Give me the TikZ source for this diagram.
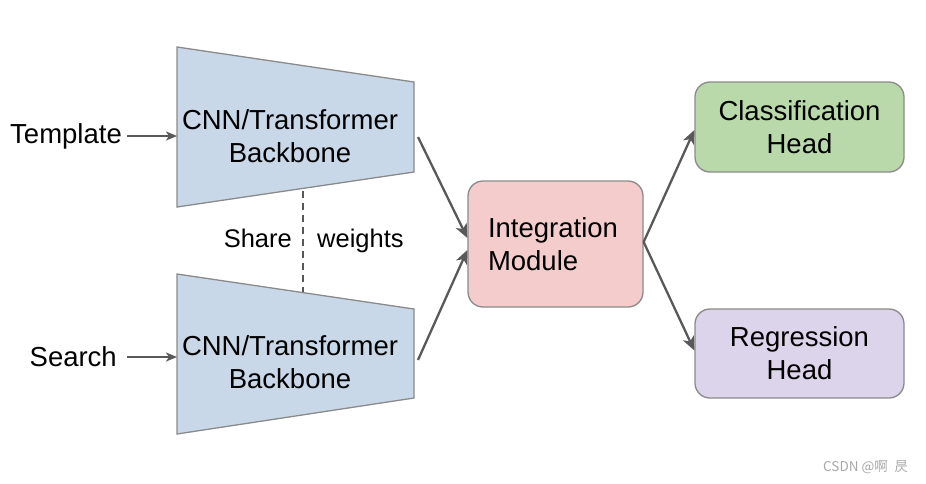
\documentclass[tikz,border=0pt]{standalone}
\usepackage{fontspec}
\setmainfont{Liberation Sans}
\newfontfamily\cjkwm{Noto Sans CJK SC}
\usetikzlibrary{arrows.meta,calc}
\definecolor{trapfill}{HTML}{C9D8E9}
\definecolor{intfill}{HTML}{F4CCCC}
\definecolor{clsfill}{HTML}{B9D9AA}
\definecolor{regfill}{HTML}{DBD4EA}
\definecolor{edgegray}{HTML}{8A8A8A}
\definecolor{arrowgray}{HTML}{595959}
\definecolor{wmgray}{HTML}{A8A8A8}
\tikzset{
  big/.style={font=\fontsize{27.5}{33}\selectfont, text=black, inner sep=0pt},
  small/.style={font=\fontsize{25.5}{30}\selectfont, text=black, inner sep=0pt},
  trap/.style={fill=trapfill, draw=edgegray, line width=1.3pt, line join=miter},
  roundbox/.style={draw=edgegray, line width=1.3pt, rounded corners=15pt, inner sep=0pt,
    font=\fontsize{27.5}{33}\selectfont, text=black},
  conn/.style={draw=arrowgray, line width=2.3pt, -{Stealth[length=14pt,width=12pt,inset=4pt]}},
  inconn/.style={draw=arrowgray, line width=2pt, -{Stealth[length=11pt,width=9pt,inset=3pt]}},
}
\begin{document}
\begin{tikzpicture}[x=1pt,y=-1pt]
\useasboundingbox (0,0) rectangle (926,483);
% trapezoids
\coordinate (a1) at (177,47);
\coordinate (a2) at (414,82);
\coordinate (a3) at (414,172);
\coordinate (a4) at (177,207);
\coordinate (b1) at (177,274);
\coordinate (b2) at (414,309);
\coordinate (b3) at (414,398);
\coordinate (b4) at (177,434);
\draw[trap] (a1) -- (a2) -- (a3) -- (a4) -- cycle;
\draw[trap] (b1) -- (b2) -- (b3) -- (b4) -- cycle;
\node[big, align=center] (bb1) at (290,136) {CNN/Transformer\\Backbone};
\node[big, align=center] (bb2) at (290,362) {CNN/Transformer\\Backbone};
% inputs
\node[big, anchor=base east] (tpl) at (122,143) {Template};
\node[big, anchor=base east] (srch) at (117,366) {Search};
\coordinate (t1in) at (177,136);
\coordinate (t2in) at (177,357);
\coordinate (t1src) at (127,136);
\coordinate (t2src) at (127,357);
\draw[inconn] (t1src) -- (t1in);
\draw[inconn] (t2src) -- (t2in);
% share weights
\coordinate (d1) at (303,191);
\coordinate (d2) at (303,292);
\draw[draw=arrowgray, line width=1.8pt, dash pattern=on 7pt off 5pt] (d1) -- (d2);
\node[small, anchor=base east] (share) at (292,247) {Share};
\node[small, anchor=base west] (wts) at (317,247) {weights};
% integration module
\node[roundbox, fill=intfill, minimum width=175pt, minimum height=126pt,
      text width=135pt, align=left, inner xsep=20pt] (int) at (555.5,244) {Integration\\Module};
% heads
\node[roundbox, fill=clsfill, minimum width=209pt, minimum height=90pt, align=center] (cls) at (799.5,127) {Classification\\Head};
\node[roundbox, fill=regfill, minimum width=209pt, minimum height=89pt, align=center] (reg) at (799.5,353.5) {Regression\\Head};
% connectors
\coordinate (t1out) at (418,137);
\coordinate (t2out) at (418,360);
\draw[conn] (t1out) -- ($(int.west)+(0,-6)$);
\draw[conn] (t2out) -- ($(int.west)+(0,6)$);
\draw[conn] ($(int.east)+(0,-2)$) -- ($(cls.west)+(0,3)$);
\draw[conn] ($(int.east)+(0,-2)$) -- ($(reg.west)+(0,-3)$);
% watermark
\node[anchor=west, inner sep=0pt, text=wmgray, font=\cjkwm\fontsize{13.5}{15}\selectfont] (wm) at (823,467) {CSDN @啊\enspace 昃};
\end{tikzpicture}
\end{document}
